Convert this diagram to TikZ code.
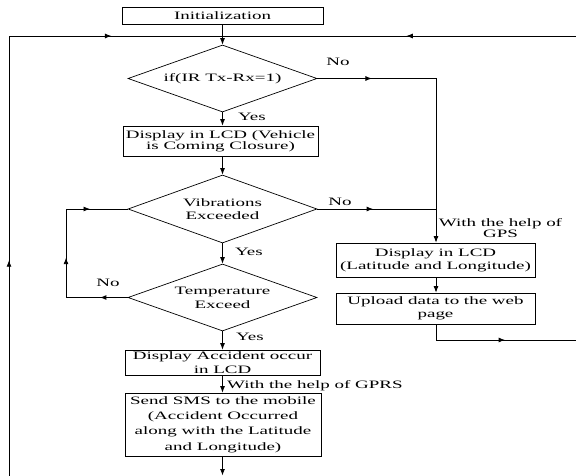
\documentclass[tikz,border=0pt]{standalone}
\usepackage{fontspec}
\setmainfont[FakeStretch=1.68]{Liberation Serif}
\usetikzlibrary{arrows.meta,decorations.markings,shapes.geometric}
\newcommand{\fsz}[1]{\fontsize{11.3}{#1}\selectfont}
\tikzset{
  box/.style={draw, line width=0.7pt, rectangle, inner sep=0pt, align=center, font=\fsz{13.3}},
  dec/.style={draw, line width=0.7pt, diamond, aspect=2.8, inner sep=0pt,
              minimum width=189pt, minimum height=67pt, align=center, font=\fsz{13.3}},
  conn/.style={line width=0.9pt},
  tip/.style={-{Latex[length=6.5pt,width=5pt]}},
  midarr/.style={postaction={decorate}, decoration={markings,
      mark=at position #1 with {\arrow{Latex[length=6.5pt,width=5pt]}}}},
  lbl/.style={inner sep=0pt, font=\fsz{13.3}},
}
\begin{document}
\begin{tikzpicture}[x=1pt,y=-1pt]
\useasboundingbox (0,0) rectangle (576,476);
\clip (0,0) rectangle (576,476);

% nodes
\node[box, minimum width=201pt, minimum height=17pt] (init) at (222.5,15.5) {Initialization};
\node[dec] (d1) at (222.5,78.5) {if(IR Tx-Rx=1)};
\node[box, minimum width=195pt, minimum height=30pt, font=\fsz{11}] (b1) at (220.5,141)
  {Display in LCD (Vehicle\\is Coming Closure)};
\node[dec, minimum height=68pt, font=\fsz{12.7}] (d2) at (222.5,209) {Vibrations\\Exceeded};
\node[dec, font=\fsz{14}] (d3) at (222.5,297.5) {Temperature\\Exceed};
\node[box, minimum width=195pt, minimum height=25pt] (acc) at (222.5,362.5)
  {Display Accident occur\\in LCD};
\node[box, minimum width=196pt, minimum height=63pt, font=\fsz{15.3}] (sms) at (223,424.5)
  {Send SMS to the mobile\\(Accident Occurred\\along with the Latitude\\and Longitude)};
\node[box, minimum width=199pt, minimum height=34pt, font=\fsz{12.7}] (gps) at (435.5,260)
  {Display in LCD\\(Latitude and Longitude)};
\node[box, minimum width=199pt, minimum height=31pt] (upl) at (435.5,308.5)
  {Upload data to the web\\page};

% labels
\node[lbl] (no1) at (338,62) {No};
\node[lbl] (yes1) at (252,117) {Yes};
\node[lbl] (no2) at (340,202) {No};
\node[lbl] (yes2) at (249,252) {Yes};
\node[lbl] (no3) at (108,283) {No};
\node[lbl] (yes3) at (250,337) {Yes};
\node[lbl, anchor=west] (gprs) at (227,386) {With the help of GPRS};
\node[lbl, align=center, font=\fsz{11.7}] (gpsl) at (500.5,228) {With the help of\\GPS};

% coordinates
\coordinate (lbot) at (9,480);
\coordinate (ltop) at (9,36);
\coordinate (j) at (222.5,36);
\coordinate (rtop) at (580,36);
\coordinate (n1) at (436,78.5);
\coordinate (n2) at (436,209);
\coordinate (lp1) at (66,297.5);
\coordinate (lp2) at (66,209);
\coordinate (u1) at (436,340);
\coordinate (rbot) at (580,340);
\coordinate (sbot) at (222.5,475.5);

% main column
\draw[conn, tip] (init.south) -- (d1.north);
\draw[conn, tip] (d1.south) -- (d1.south |- b1.north);
\draw[conn, tip] (d1.south |- b1.south) -- (d2.north);
\draw[conn, tip] (d2.south) -- (d3.north);
\draw[conn, tip] (d3.south) -- (acc.north);
\draw[conn, tip] (acc.south) -- (acc.south |- sms.north);
\draw[conn, tip] (acc.south |- sms.south) -- (sbot);

% outer loop
\draw[conn, midarr=0.495] (lbot) -- (ltop);
\draw[conn, midarr=0.48] (ltop) -- (j);
\draw[conn, midarr=0.486] (rtop) -- (j);

% No branches to the right
\draw[conn, midarr=0.46] (d1.east) -- (n1);
\draw[conn, tip] (n1) -- (n1 |- gps.north);
\draw[conn, midarr=0.47] (d2.east) -- (n2);

% left loop
\draw[conn, midarr=0.45] (d3.west) -- (lp1);
\draw[conn, midarr=0.45] (lp1) -- (lp2);
\draw[conn, midarr=0.39] (lp2) -- (d2.west);

% right column
\draw[conn, tip] (n1 |- gps.south) -- (n1 |- upl.north);
\draw[conn] (n1 |- upl.south) -- (u1);
\draw[conn, midarr=0.48] (u1) -- (rbot);
\end{tikzpicture}
\end{document}
